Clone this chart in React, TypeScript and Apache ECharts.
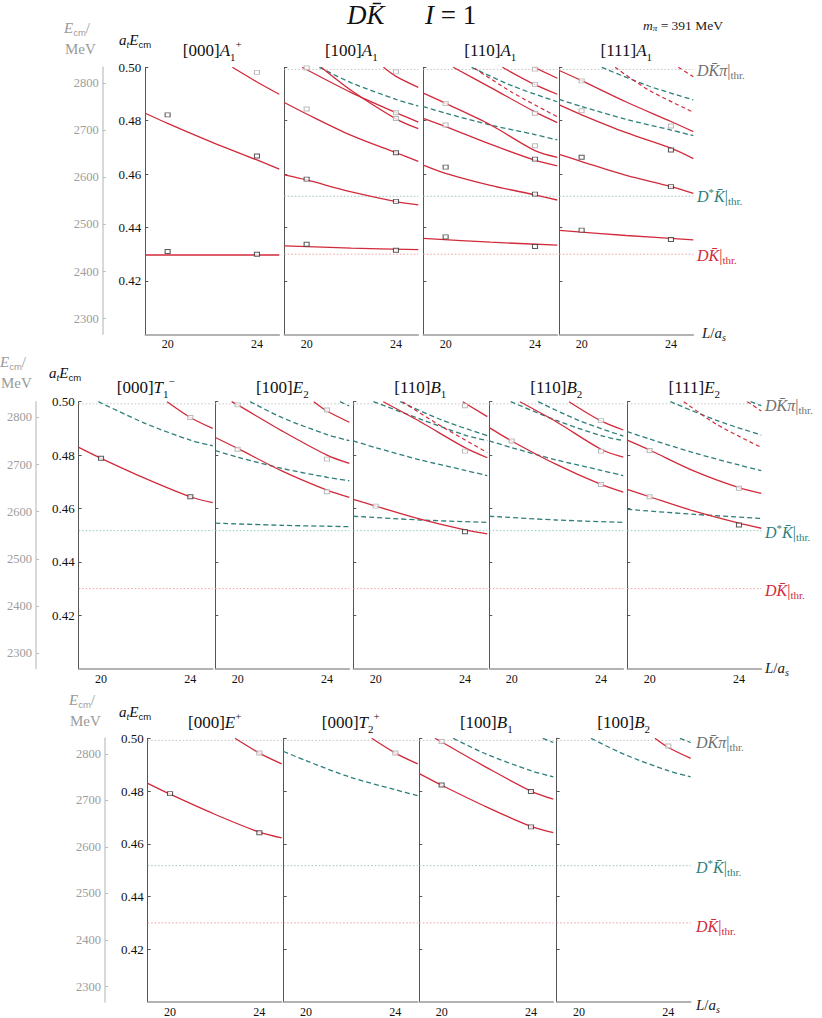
import React, { useEffect, useRef } from "react";
import * as echarts from "echarts";

const SERIF = '"Liberation Serif", "DejaVu Serif", serif';
const SANS = '"Liberation Sans", "DejaVu Sans", sans-serif';
const RED = "#d12a3a";
const TEAL = "#2e7f7b";
const GRAYPT = "#a9a9a9";
const BLACKPT = "#333333";

// axes
const xTickValues = [20, 24];
const yTickValues = [0.42, 0.44, 0.46, 0.48, 0.5];
const mevTickValues = [2300, 2400, 2500, 2600, 2700, 2800];
const atInverseMeV = 5667;
const thrDKpi = 0.4992;
const thrDstarK = 0.4517;
const thrDK = 0.43;

// ---------- Row 1 ----------
// [000] A1+
const r1p1Solid = [
  [[22.9, 0.5], [24, 0.4945], [25, 0.4899]],
  [[19, 0.4828], [20, 0.479], [22, 0.4719], [24, 0.4653], [25, 0.4619]],
  [[19, 0.4297], [25, 0.4297]],
];
const r1p1Black = [[20, 0.4822], [24, 0.4668], [20, 0.431], [24, 0.43]];
const r1p1Gray = [[24, 0.4981]];

// [100] A1
const r1p2Solid = [
  [[19, 0.4331], [22, 0.4323], [25, 0.4317]],
  [[19, 0.4597], [20, 0.4578], [22, 0.4533], [24, 0.4497], [25, 0.4485]],
  [[19, 0.4868], [20, 0.4825], [22, 0.4745], [24, 0.468], [25, 0.4648]],
  [[19.8, 0.5], [22, 0.4905], [24, 0.483], [25, 0.4795]],
  [[20.65, 0.5], [22, 0.4913], [24, 0.4807], [25, 0.477]],
  [[23.44, 0.5], [24, 0.4966], [25, 0.4925]],
];
const r1p2Teal = [[[20.57, 0.5], [22, 0.4942], [24, 0.488], [25, 0.4855]]];
const r1p2Black = [[20, 0.4581], [20, 0.4337], [24, 0.468], [24, 0.4498], [24, 0.4315]];
const r1p2Gray = [[20, 0.4998], [20, 0.4844], [24, 0.4983], [24, 0.483], [24, 0.4808]];

// [110] A1
const r1p3Solid = [
  [[19, 0.4359], [22, 0.4345], [25, 0.4334]],
  [[19, 0.4634], [20, 0.4603], [22, 0.4558], [24, 0.4522], [25, 0.4503]],
  [[19, 0.4809], [20, 0.4778], [22, 0.4712], [24, 0.4652], [25, 0.4631]],
  [[19, 0.4903], [20, 0.4865], [22, 0.4785], [24, 0.4688], [25, 0.4663]],
  [[20.34, 0.5], [22, 0.4925], [24, 0.4833], [25, 0.4793]],
  [[22.54, 0.5], [24, 0.4935], [25, 0.4899]],
  [[23.97, 0.5], [25, 0.4959]],
];
const r1p3Teal = [
  [[19, 0.4853], [20, 0.4828], [22, 0.4784], [24, 0.4748], [25, 0.4728]],
  [[21.16, 0.5], [23, 0.493], [25, 0.4871]],
];
const r1p3RedDash = [[[21.3, 0.4996], [23, 0.4905], [25, 0.4815]]];
const r1p3Black = [[20, 0.4626], [20, 0.4365], [24, 0.4656], [24, 0.4525], [24, 0.4329]];
const r1p3Gray = [[20, 0.4865], [20, 0.4784], [24, 0.4993], [24, 0.4936], [24, 0.4828], [24, 0.4706]];

// [111] A1
const r1p4Solid = [
  [[19, 0.4988], [20, 0.495], [22, 0.487], [24, 0.4797], [25, 0.4759]],
  [[19, 0.4859], [20, 0.4822], [22, 0.4755], [24, 0.4697], [25, 0.4658]],
  [[19, 0.4674], [20, 0.4647], [22, 0.4595], [24, 0.4553], [25, 0.4528]],
  [[19, 0.4389], [22, 0.437], [25, 0.4354]],
];
const r1p4Teal = [
  [[19, 0.488], [20, 0.4853], [22, 0.4805], [24, 0.4765], [25, 0.4744]],
  [[20.9, 0.5], [23, 0.493], [25, 0.4878]],
];
const r1p4RedDash = [
  [[21.5, 0.5], [23, 0.4915], [25, 0.4832]],
  [[24.33, 0.5], [25, 0.4965]],
];
const r1p4Black = [[20, 0.4663], [20, 0.439], [24, 0.469], [24, 0.4553], [24, 0.4355]];
const r1p4Gray = [[20, 0.4949], [20, 0.4837], [24, 0.478]];

// ---------- Row 2 ----------
// [000] T1-
const r2p1Solid = [
  [[19, 0.4829], [20, 0.4788], [22, 0.4712], [24, 0.4644], [25, 0.4622]],
  [[22.96, 0.5], [24, 0.4941], [25, 0.49]],
];
const r2p1Teal = [[[19.88, 0.5], [22, 0.4918], [24, 0.4856], [25, 0.4835]]];
const r2p1Black = [[20, 0.4788], [24, 0.4644]];
const r2p1Gray = [[24, 0.4941]];

// [100] E2
const r2p2Solid = [
  [[19, 0.4866], [20, 0.4825], [22, 0.474], [24, 0.4669], [25, 0.4642]],
  [[19.73, 0.5], [20, 0.4988], [22, 0.489], [24, 0.48], [25, 0.4769]],
  [[23.41, 0.5], [24, 0.4965], [25, 0.4923]],
];
const r2p2Teal = [
  [[19, 0.4817], [20, 0.4792], [22, 0.475], [24, 0.4717], [25, 0.4704]],
  [[20.56, 0.5], [22, 0.494], [24, 0.4877], [25, 0.4854]],
  [[24.58, 0.5], [25, 0.4984]],
  [[19, 0.4545], [22, 0.4537], [25, 0.4532]],
];
const r2p2Black: number[][] = [];
const r2p2Gray = [[20, 0.4988], [20, 0.4822], [24, 0.4969], [24, 0.4785], [24, 0.4663]];

// [110] B1
const r2p3Solid = [
  [[19, 0.4634], [20, 0.4609], [22, 0.456], [24, 0.452], [25, 0.4505]],
  [[20.34, 0.5], [22, 0.4925], [24, 0.4828], [25, 0.479]],
  [[23.9, 0.5], [25, 0.4944]],
];
const r2p3Teal = [
  [[19, 0.4571], [22, 0.4557], [25, 0.4548]],
  [[19, 0.4853], [20, 0.4828], [22, 0.4782], [24, 0.4743], [25, 0.4723]],
  [[19.9, 0.5], [22, 0.4935], [24, 0.4875], [25, 0.4854]],
  [[21.1, 0.5], [23, 0.493], [25, 0.4873]],
];
const r2p3RedDash = [[[21.2, 0.5], [23, 0.4905], [25, 0.481]]];
const r2p3Black = [[24, 0.4513]];
const r2p3Gray = [[20, 0.4609], [24, 0.4985], [24, 0.4815]];

// [110] B2
const r2p4Solid = [
  [[19, 0.4903], [20, 0.4853], [22, 0.4765], [24, 0.469], [25, 0.4661]],
  [[20.37, 0.5], [22, 0.4925], [24, 0.4822], [25, 0.4792]],
  [[22.57, 0.5], [24, 0.4928], [25, 0.4894]],
];
const r2p4Teal = [
  [[19, 0.4853], [20, 0.4828], [22, 0.4782], [24, 0.4743], [25, 0.4723]],
  [[19.96, 0.5], [22, 0.493], [24, 0.4873], [25, 0.4854]],
  [[21.19, 0.5], [23, 0.493], [25, 0.4871]],
  [[19, 0.4571], [22, 0.4557], [25, 0.4548]],
];
const r2p4Black: number[][] = [];
const r2p4Gray = [[20, 0.4853], [24, 0.4929], [24, 0.4815], [24, 0.469]];

// [111] E2
const r2p5Solid = [
  [[19, 0.4856], [20, 0.4819], [22, 0.474], [24, 0.4678], [25, 0.4657]],
  [[19, 0.4672], [20, 0.4644], [22, 0.459], [24, 0.4545], [25, 0.4526]],
];
const r2p5Teal = [
  [[19, 0.4597], [22, 0.4578], [25, 0.4563]],
  [[19, 0.4888], [20, 0.486], [22, 0.4808], [24, 0.4763], [25, 0.4742]],
  [[20.93, 0.5], [23, 0.493], [25, 0.4875]],
  [[24.52, 0.5], [25, 0.4985]],
];
const r2p5RedDash = [
  [[21.53, 0.5], [23, 0.4915], [25, 0.4829]],
  [[24.37, 0.5], [25, 0.4965]],
];
const r2p5Black = [[24, 0.4538]];
const r2p5Gray = [[20, 0.4817], [20, 0.4644], [24, 0.4676]];

// ---------- Row 3 ----------
// [000] E+
const r3p1Solid = [
  [[19, 0.4829], [20, 0.4788], [22, 0.4712], [24, 0.4644], [25, 0.4622]],
  [[22.91, 0.5], [24, 0.4944], [25, 0.4903]],
];
const r3p1Black = [[20, 0.479], [24, 0.4642]];
const r3p1Gray = [[24, 0.4944]];

// [000] T2+
const r3p2Solid = [[[22.94, 0.5], [24, 0.4944], [25, 0.4903]]];
const r3p2Teal = [[[19, 0.495], [20, 0.4915], [22, 0.4852], [24, 0.4805], [25, 0.4782]]];
const r3p2Gray = [[24, 0.4944]];

// [100] B1
const r3p3Solid = [
  [[19, 0.4866], [20, 0.4822], [22, 0.474], [24, 0.4666], [25, 0.4642]],
  [[19.7, 0.5], [20, 0.4986], [22, 0.489], [24, 0.48], [25, 0.4769]],
];
const r3p3Teal = [
  [[20.52, 0.5], [22, 0.494], [24, 0.4877], [25, 0.4854]],
  [[24.53, 0.5], [25, 0.4984]],
];
const r3p3Black = [[20, 0.4823], [24, 0.4798], [24, 0.4664]];
const r3p3Gray = [[20, 0.4988]];

// [100] B2
const r3p4Solid = [[[23.4, 0.5], [24, 0.4965], [25, 0.4924]]];
const r3p4Teal = [
  [[20.54, 0.5], [22, 0.494], [24, 0.4877], [25, 0.4854]],
  [[24.52, 0.5], [25, 0.4984]],
];
const r3p4Gray = [[24, 0.4971]];

const panelTitles = [
  ["{r|[000]}{i|A}{sub|1}{sup|+}", "{r|[100]}{i|A}{sub|1}", "{r|[110]}{i|A}{sub|1}", "{r|[111]}{i|A}{sub|1}"],
  ["{r|[000]}{i|T}{sub|1}{sup|−}", "{r|[100]}{i|E}{sub|2}", "{r|[110]}{i|B}{sub|1}", "{r|[110]}{i|B}{sub|2}", "{r|[111]}{i|E}{sub|2}"],
  ["{r|[000]}{i|E}{sup|+}", "{r|[000]}{i|T}{sub|2}{sup|+}", "{r|[100]}{i|B}{sub|1}", "{r|[100]}{i|B}{sub|2}"],
];

type Panel = {
  solid: number[][][];
  teal: number[][][];
  redDash: number[][][];
  black: number[][];
  gray: number[][];
  thr: boolean;
};

const panelRows: Panel[][] = [
  [
    { solid: r1p1Solid, teal: [], redDash: [], black: r1p1Black, gray: r1p1Gray, thr: false },
    { solid: r1p2Solid, teal: r1p2Teal, redDash: [], black: r1p2Black, gray: r1p2Gray, thr: true },
    { solid: r1p3Solid, teal: r1p3Teal, redDash: r1p3RedDash, black: r1p3Black, gray: r1p3Gray, thr: true },
    { solid: r1p4Solid, teal: r1p4Teal, redDash: r1p4RedDash, black: r1p4Black, gray: r1p4Gray, thr: true },
  ],
  [
    { solid: r2p1Solid, teal: r2p1Teal, redDash: [], black: r2p1Black, gray: r2p1Gray, thr: true },
    { solid: r2p2Solid, teal: r2p2Teal, redDash: [], black: r2p2Black, gray: r2p2Gray, thr: true },
    { solid: r2p3Solid, teal: r2p3Teal, redDash: r2p3RedDash, black: r2p3Black, gray: r2p3Gray, thr: true },
    { solid: r2p4Solid, teal: r2p4Teal, redDash: [], black: r2p4Black, gray: r2p4Gray, thr: true },
    { solid: r2p5Solid, teal: r2p5Teal, redDash: r2p5RedDash, black: r2p5Black, gray: r2p5Gray, thr: true },
  ],
  [
    { solid: r3p1Solid, teal: [], redDash: [], black: r3p1Black, gray: r3p1Gray, thr: true },
    { solid: r3p2Solid, teal: r3p2Teal, redDash: [], black: [], gray: r3p2Gray, thr: true },
    { solid: r3p3Solid, teal: r3p3Teal, redDash: [], black: r3p3Black, gray: r3p3Gray, thr: true },
    { solid: r3p4Solid, teal: r3p4Teal, redDash: [], black: [], gray: r3p4Gray, thr: true },
  ],
];

// layout (pixels)
const rowTop = [67.3, 401.7, 738.3];
const rowLefts = [
  [145.3, 284.3, 423.3, 559.3],
  [78.7, 215.3, 353.3, 489.3, 627.3],
  [147.7, 283.7, 419.3, 556.7],
];
const PW = 134;
const PH = 267;
const rowTitleY = [50, 387, 722];

const titleRich = {
  r: { fontFamily: SERIF, fontSize: 17, lineHeight: 24, fill: "#111" },
  i: { fontFamily: SERIF, fontStyle: "italic", fontSize: 17, lineHeight: 24, fill: "#111" },
  sub: { fontFamily: SERIF, fontSize: 11, lineHeight: 12, verticalAlign: "bottom", fill: "#111" },
  sup: { fontFamily: SERIF, fontSize: 11, lineHeight: 12, verticalAlign: "top", fill: "#111" },
};

function thrRich(color: string) {
  return {
    i: { fontFamily: SERIF, fontStyle: "italic", fontSize: 16, lineHeight: 20, fill: color },
    r: { fontFamily: SERIF, fontSize: 16, lineHeight: 20, fill: color },
    s: { fontFamily: SERIF, fontSize: 11, lineHeight: 11, verticalAlign: "bottom", fill: color },
    p: { fontFamily: SERIF, fontSize: 11, lineHeight: 11, verticalAlign: "top", fill: color },
  };
}

const axisTitleRich = (color: string) => ({
  i: { fontFamily: SERIF, fontStyle: "italic", fontSize: 15, lineHeight: 18, fill: color },
  r: { fontFamily: SERIF, fontSize: 15, lineHeight: 18, fill: color },
  s: { fontFamily: SANS, fontSize: 9.5, lineHeight: 10, verticalAlign: "bottom", fill: color },
  si: { fontFamily: SERIF, fontStyle: "italic", fontSize: 10, lineHeight: 10, verticalAlign: "bottom", fill: color },
});

function buildOption() {
  const grid: any[] = [];
  const xAxis: any[] = [];
  const yAxis: any[] = [];
  const series: any[] = [];
  const graphic: any[] = [];
  let idx = 0;
  const firstIdx: number[] = [];

  const curve = (ax: any, d: number[][], color: string, width: number, type: any, z: number) => ({
    type: "line", ...ax, silent: true, z, symbol: "none", smooth: 0.3,
    data: d, lineStyle: { color, width, type },
  });

  panelRows.forEach((row, r) => {
    row.forEach((p, c) => {
      const i = idx++;
      if (c === 0) firstIdx.push(i);
      grid.push({ left: rowLefts[r][c], top: rowTop[r], width: PW, height: PH, containLabel: false });
      xAxis.push({
        gridIndex: i,
        type: "value",
        min: 19,
        max: 25,
        axisLine: { show: true, lineStyle: { color: "#9a9a9a", width: 1.5 } },
        axisTick: { show: false, customValues: xTickValues },
        axisLabel: { customValues: xTickValues, fontFamily: SERIF, fontSize: 12, color: "#111", margin: 4 },
        splitLine: { show: false },
      });
      yAxis.push({
        gridIndex: i,
        type: "value",
        min: 0.4,
        max: 0.5,
        axisLine: { show: true, lineStyle: { color: "#555", width: 1 } },
        axisTick: { show: true, inside: true, length: 3, customValues: yTickValues, lineStyle: { color: "#555" } },
        axisLabel: {
          show: c === 0,
          customValues: yTickValues,
          formatter: (v: number) => v.toFixed(2),
          fontFamily: SERIF,
          fontSize: 13,
          color: "#111",
          margin: 4,
        },
        splitLine: { show: false },
      });

      const ax = { xAxisIndex: i, yAxisIndex: i };
      if (p.thr) {
        const thr: [number, string][] = [
          [thrDKpi, "#c4c4c4"],
          [thrDstarK, "#95c4c1"],
          [thrDK, "#ef9ea3"],
        ];
        thr.forEach(([v, col]) =>
          series.push({
            type: "line", ...ax, silent: true, z: 1, symbol: "none",
            data: [[19, v], [25, v]],
            lineStyle: { color: col, width: 1, type: [1.5, 2] },
          })
        );
      }
      p.solid.forEach((d) => series.push(curve(ax, d, RED, 1.3, "solid", 3)));
      p.teal.forEach((d) => series.push(curve(ax, d, TEAL, 1.3, [5, 3], 2)));
      p.redDash.forEach((d) => series.push(curve(ax, d, RED, 1.2, [4, 3], 2)));
      if (p.gray.length)
        series.push({
          type: "scatter", ...ax, silent: true, z: 5, symbol: "rect", symbolSize: [5, 4],
          data: p.gray, itemStyle: { color: "#fff", borderColor: GRAYPT, borderWidth: 1 },
        });
      if (p.black.length)
        series.push({
          type: "scatter", ...ax, silent: true, z: 6, symbol: "rect", symbolSize: [5, 4],
          data: p.black, itemStyle: { color: "#fff", borderColor: BLACKPT, borderWidth: 1 },
        });

      graphic.push({
        type: "text",
        x: rowLefts[r][c] + PW / 2,
        y: rowTitleY[r],
        silent: true,
        style: { text: panelTitles[r][c], rich: titleRich, align: "center", verticalAlign: "middle" },
      });
    });
  });

  // MeV axes
  firstIdx.forEach((gi) => {
    yAxis.push({
      gridIndex: gi,
      type: "value",
      position: "left",
      offset: 42.6,
      min: 0.4 * atInverseMeV,
      max: 0.5 * atInverseMeV,
      axisLine: { show: true, lineStyle: { color: "#cfcfcf", width: 1.6 } },
      axisTick: { show: true, inside: true, length: 3, customValues: mevTickValues, lineStyle: { color: "#bdbdbd" } },
      axisLabel: {
        customValues: mevTickValues,
        formatter: (v: number) => String(Math.round(v)),
        fontFamily: SERIF, fontSize: 12.5, color: "#9d9d9d", margin: 4,
      },
      splitLine: { show: false },
    });
  });

  // axis titles per row
  const eTitlePos = [[64, 28, 49], [0, 362, 383], [69, 700, 721]];
  const aTitlePos = [[119, 40], [49, 373], [119, 712]];
  eTitlePos.forEach(([x, y1, y2]) => {
    graphic.push({ type: "text", x, y: y1, silent: true,
      style: { text: "{i|E}{s|cm}{r|/}", rich: axisTitleRich("#9a9a9a"), verticalAlign: "middle" } });
    graphic.push({ type: "text", x: x + 1, y: y2, silent: true,
      style: { text: "{r|MeV}", rich: axisTitleRich("#9a9a9a"), verticalAlign: "middle" } });
  });
  aTitlePos.forEach(([x, y]) => {
    graphic.push({ type: "text", x, y, silent: true,
      style: { text: "{i|a}{si|t}{i|E}{s|cm}", rich: axisTitleRich("#111"), verticalAlign: "middle" } });
  });

  // threshold labels
  const thrLabelX = [697, 765, 696];
  const thrLabelY = [[70, 196, 255], [405, 532, 590], [742, 867, 926]];
  thrLabelX.forEach((x, r) => {
    graphic.push({ type: "text", x, y: thrLabelY[r][0], silent: true,
      style: { text: "{i|DK\u0304π}{r||}{s|thr.}", rich: thrRich("#707070"), verticalAlign: "middle" } });
    graphic.push({ type: "text", x, y: thrLabelY[r][1], silent: true,
      style: { text: "{i|D}{p|*}{i|K\u0304}{r||}{s|thr.}", rich: thrRich(TEAL), verticalAlign: "middle" } });
    graphic.push({ type: "text", x, y: thrLabelY[r][2], silent: true,
      style: { text: "{i|DK\u0304}{r||}{s|thr.}", rich: thrRich(RED), verticalAlign: "middle" } });
  });

  // L/a_s labels
  const lPos = [[702, 333], [765, 668], [696, 1005]];
  lPos.forEach(([x, y]) => {
    graphic.push({ type: "text", x, y, silent: true,
      style: { text: "{i|L}{r|/}{i|a}{si|s}", rich: axisTitleRich("#222"), verticalAlign: "middle" } });
  });

  // main title
  graphic.push({
    type: "text", x: 347, y: 15, silent: true,
    style: {
      text: "{i|DK\u0304}{r|      }{i|I}{r| = 1}",
      rich: {
        i: { fontFamily: SERIF, fontStyle: "italic", fontSize: 27, lineHeight: 32, fill: "#111" },
        r: { fontFamily: SERIF, fontSize: 27, lineHeight: 32, fill: "#111" },
      },
      verticalAlign: "middle",
    },
  });
  graphic.push({
    type: "text", x: 643, y: 25, silent: true,
    style: {
      text: "{i|m}{s|π}{r| = 391 MeV}",
      rich: {
        i: { fontFamily: SERIF, fontStyle: "italic", fontSize: 13.5, lineHeight: 15, fill: "#222" },
        r: { fontFamily: SERIF, fontSize: 13.5, lineHeight: 15, fill: "#222" },
        s: { fontFamily: SERIF, fontStyle: "italic", fontSize: 9, lineHeight: 9, verticalAlign: "bottom", fill: "#222" },
      },
      verticalAlign: "middle",
    },
  });

  return {
    animation: false,
    backgroundColor: "#fff",
    grid,
    xAxis,
    yAxis,
    series,
    graphic,
  };
}

export default function App() {
  const ref = useRef<HTMLDivElement>(null);
  useEffect(() => {
    if (!ref.current) return;
    const chart = echarts.init(ref.current, null, { renderer: "svg" });
    chart.setOption(buildOption() as any);
    return () => chart.dispose();
  }, []);
  return (
    <div
      ref={ref}
      style={{ position: "absolute", left: 0, top: 0, width: 822, height: 1018, background: "#fff" }}
    />
  );
}
